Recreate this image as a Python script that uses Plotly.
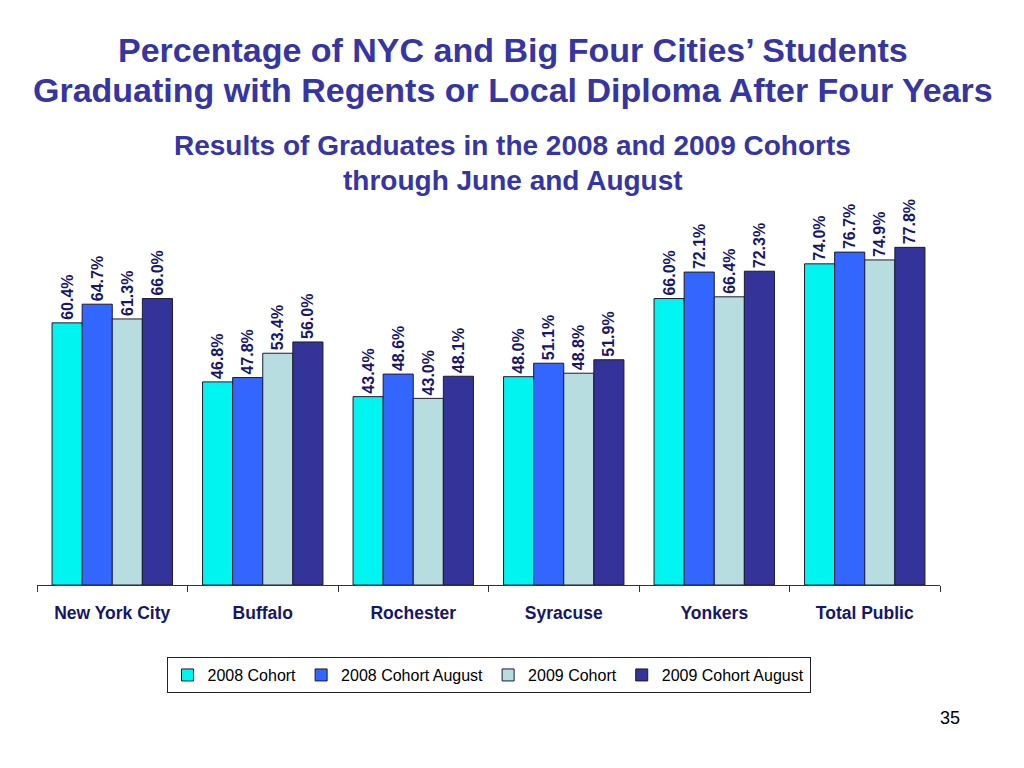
import plotly.graph_objects as go

# Graduation rates, percent
cities = ["New York City", "Buffalo", "Rochester", "Syracuse", "Yonkers", "Total Public"]
cohort_2008 = [60.4, 46.8, 43.4, 48.0, 66.0, 74.0]
cohort_2008_aug = [64.7, 47.8, 48.6, 51.1, 72.1, 76.7]
cohort_2009 = [61.3, 53.4, 43.0, 48.8, 66.4, 74.9]
cohort_2009_aug = [66.0, 56.0, 48.1, 51.9, 72.3, 77.8]

series = [
    ("2008 Cohort", cohort_2008, "#00F5F0"),
    ("2008 Cohort August", cohort_2008_aug, "#3366FF"),
    ("2009 Cohort", cohort_2009, "#B8DDE0"),
    ("2009 Cohort August", cohort_2009_aug, "#333399"),
]

navy = "#16166B"
title_col = "#3535A5"

fig = go.Figure()
for name, vals, col in series:
    fig.add_trace(go.Bar(
        name=name, x=cities, y=vals,
        marker=dict(color=col, line=dict(color="#1a1a3a", width=1)),
        text=[f"{v:.1f}%" for v in vals],
        textposition="outside", textangle=-90, constraintext="none",
        textfont=dict(family="Liberation Sans, Arial", size=16, color=navy),
        texttemplate="<b>%{text}</b>",
        cliponaxis=False,
    ))

# dummy trace on second x axis to draw boundary ticks between categories
fig.add_trace(go.Scatter(x=[-0.5, 5.5], y=[0, 0], xaxis="x2", mode="lines",
                         line=dict(color="rgba(0,0,0,0)"), showlegend=False,
                         hoverinfo="skip"))

fig.update_layout(
    width=1024, height=768,
    paper_bgcolor="white", plot_bgcolor="white",
    barmode="group", bargap=0.2, bargroupgap=0,
    margin=dict(l=29, r=92, t=143, b=191),
    font=dict(family="Liberation Sans, Arial"),
    xaxis=dict(type="category", showline=True, linecolor="#333", linewidth=1,
               ticks="", tickfont=dict(size=17.5, color=navy, weight="bold"),
               ticklabelstandoff=12, range=[-0.5, 5.5]),
    xaxis2=dict(overlaying="x", range=[-0.5, 5.5], tickvals=[-0.5, 0.5, 1.5, 2.5, 3.5, 4.5, 5.5],
                showticklabels=False, ticks="outside", ticklen=6, tickcolor="#333",
                showgrid=False, zeroline=False, side="bottom", showline=False),
    yaxis=dict(range=[0, 100], visible=False),
    legend=dict(orientation="h", x=0.5, xanchor="center", y=-0.166, yanchor="top",
                bordercolor="#222", borderwidth=1, font=dict(size=16, color="black"),
                traceorder="normal", itemwidth=30),
    showlegend=True,
)

title_lines = ["Percentage of NYC and Big Four Cities’ Students",
               "Graduating with Regents or Local Diploma After Four Years"]
for i, line in enumerate(title_lines):
    fig.add_annotation(text=f"<b>{line}</b>", xref="paper", yref="paper", x=0.5, y=1,
                       xshift=24, yshift=101 - 40 * i, showarrow=False,
                       font=dict(size=34, color=title_col), yanchor="middle")

sub_lines = ["Results of Graduates in the 2008 and 2009 Cohorts", "through June and August"]
for i, line in enumerate(sub_lines):
    fig.add_annotation(text=f"<b>{line}</b>", xref="paper", yref="paper", x=0.5, y=1,
                       xshift=24, yshift=6 - 35 * i, showarrow=False,
                       font=dict(size=28, color=title_col), yanchor="middle")

fig.add_annotation(text="35", xref="paper", yref="paper", x=1, y=0, xshift=22, yshift=-145,
                   showarrow=False, font=dict(size=18, color="black"))

fig.write_html("out.html")
